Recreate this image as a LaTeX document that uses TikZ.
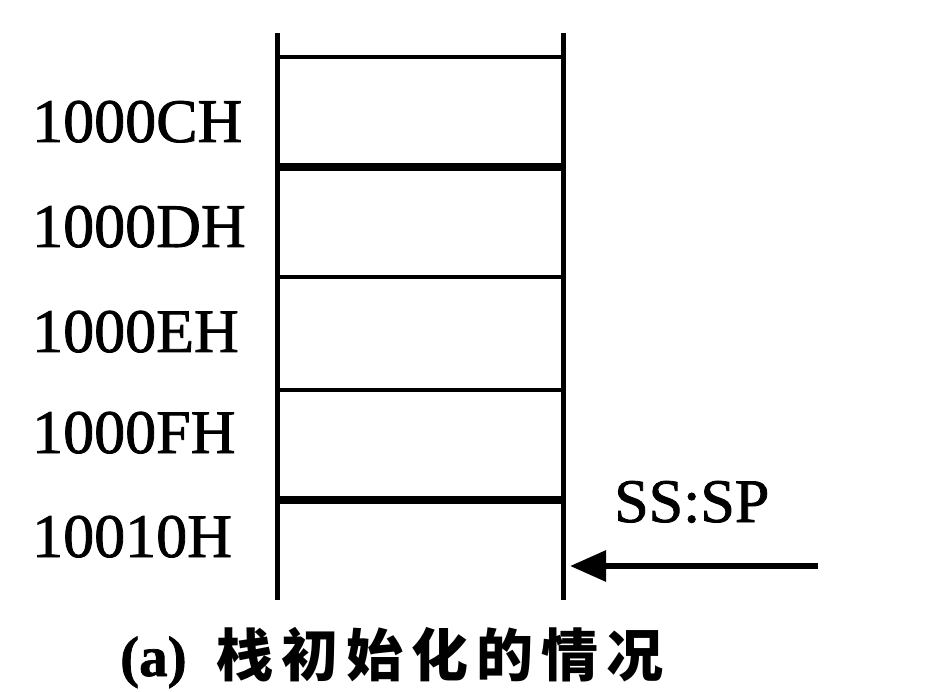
\documentclass[tikz,border=0pt]{standalone}
\usepackage{fontspec}
\setmainfont{Liberation Serif}[FakeBold=1.3]
\newfontfamily\cjk{Noto Sans CJK SC}[LetterSpace=14]
\usetikzlibrary{positioning,arrows.meta}

\begin{document}
\begin{tikzpicture}[
    x=1pt,y=-1pt,
    every node/.style={font=\fontsize{62}{62}\selectfont,inner sep=0pt},
    addr/.style={anchor=base west},
    wall/.style={line width=5pt},
    cellline/.style={line width=4.5pt},
    cellthick/.style={line width=7.5pt},
    ptr/.style={-{Triangle[length=36pt,width=30pt]},line width=6pt}
  ]
  \useasboundingbox (0,0) rectangle (937,692);
  \coordinate (lt) at (277,33);
  \coordinate (lb) at (277,600);
  \coordinate (rt) at (563,33);
  \coordinate (rb) at (563,600);
  \draw[wall] (lt) -- (lb);
  \draw[wall] (rt) -- (rb);
  % cell borders
  \foreach \y/\s in {57/cellline,167/cellthick,277/cellline,390/cellline,500/cellthick}
    \draw[\s] (lt |- 0,\y) -- (rt |- 0,\y);
  % addresses
  \node[addr] (c)  at (32,142) {1000CH};
  \node[addr] (d)  at (32,247) {1000DH};
  \node[addr] (e)  at (32,352) {1000EH};
  \node[addr] (f)  at (32,453) {1000FH};
  \node[addr] (g)  at (32,557) {10010H};
  % stack pointer
  \node[addr] (sp) at (614,522) {SS:SP};
  \coordinate (spfrom) at (818,566);
  \coordinate (spto) at (570,566);
  \draw[ptr] (spfrom) -- (spto);
  \node[addr,font=\fontsize{57}{57}\selectfont] (cap) at (120,676)
    {\bfseries (a)\hspace{30pt}{\cjk 栈初始化的情况}};
\end{tikzpicture}
\end{document}
